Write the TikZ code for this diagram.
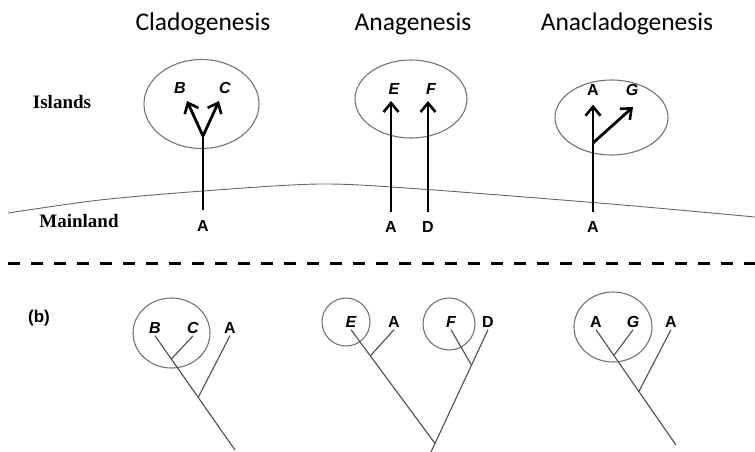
\documentclass[tikz,border=0pt]{standalone}
\usepackage{fontspec}
\setmainfont{Liberation Serif}
\setsansfont{Liberation Sans}
\newfontfamily\headfont{Carlito}
\usetikzlibrary{arrows.meta,shapes.geometric,calc}

\tikzset{
	evo/.style={line width=2.8pt, black},
	evoarrow/.style={evo, -{Straight Barb[length=9pt, width=15pt, line width=2.6pt]}},
	island/.style={ellipse, draw=black!55, line width=1.1pt, inner sep=0pt},
	taxon/.style={font=\fontsize{16}{16}\selectfont\sffamily\bfseries, inner sep=2pt},
	newtaxon/.style={taxon, font=\fontsize{16}{16}\selectfont\sffamily\bfseries\itshape},
	branch/.style={black!70, line width=1.1pt},
	heading/.style={font=\fontsize{25.5}{25.5}\selectfont\headfont},
	region/.style={font=\fontsize{19}{19}\selectfont\rmfamily\bfseries}
}

\begin{document}
\begin{tikzpicture}[x=1pt, y=-1pt]
	\useasboundingbox (0,0) rectangle (755,452);

	% headings and region names
	\node[heading] (hclado) at (203,24) {Cladogenesis};
	\node[heading] (hana) at (413,24) {Anagenesis};
	\node[heading] (hanaclado) at (627,24) {Anacladogenesis};
	\node[region] (islands) at (62,102) {Islands};
	\node[region] (mainland) at (79,221) {Mainland};

	% coast line between mainland and islands
	\draw[black!60, line width=0.9pt] plot[smooth] coordinates {(8,213) (100,200) (203,191) (320,184) (420,189) (611,204) (755,217)};

	% islands
	\node[island, minimum width=115pt, minimum height=89pt] (isl1) at (201.5,104) {};
	\node[island, minimum width=112pt, minimum height=78pt] (isl2) at (411,99) {};
	\node[island, minimum width=113pt, minimum height=75pt] (isl3) at (611.5,117.5) {};

	% cladogenesis
	\node[taxon] (a1) at (203,226) {A};
	\node[newtaxon] (b1) at (180,88) {B};
	\node[newtaxon] (c1) at (225,88) {C};
	\coordinate (fork1) at (203,136);
	\coordinate (tipb1) at (187,101);
	\coordinate (tipc1) at (219,101);
	\draw[evo, shorten <=8pt] (a1) -- (fork1);
	\draw[evoarrow] (fork1) -- (tipb1);
	\draw[evoarrow] (fork1) -- (tipc1);

	% anagenesis
	\node[taxon] (a2) at (391,227) {A};
	\node[taxon] (d2) at (428,227) {D};
	\node[newtaxon] (e2) at (394,89) {E};
	\node[newtaxon] (f2) at (431,89) {F};
	\draw[evoarrow, shorten <=7pt, shorten >=12pt] (a2) -- (a2 |- e2);
	\draw[evoarrow, shorten <=7pt, shorten >=12pt] (d2) -- (d2 |- f2);

	% anacladogenesis
	\node[taxon] (a3) at (593,227) {A};
	\node[taxon] (a3top) at (593,90) {A};
	\node[newtaxon] (g3) at (632,90) {G};
	\coordinate (fork3) at (593,143);
	\coordinate (tipg3) at (633,107);
	\draw[evoarrow, shorten <=7pt, shorten >=7pt] (a3) -- (a3top);
	\draw[evoarrow] (fork3) -- (tipg3);

	% separator
	\draw[line width=3pt, dash pattern=on 12pt off 11pt] (8,263) -- (755,263);
	\node[taxon, font=\fontsize{17}{17}\selectfont\sffamily\bfseries] (labb) at (39,318) {(b)};

	% tree for cladogenesis
	\node[island, minimum width=77pt, minimum height=70pt] (circ1) at (171.5,333) {};
	\node[newtaxon] (b4) at (155,328) {B};
	\node[newtaxon] (c4) at (193,328) {C};
	\node[taxon] (a4) at (230,328) {A};
	\coordinate (root4) at (235,450);
	\draw[branch] (b4.south) -- (root4);
	\draw[branch] (c4.south) -- ($(b4.south)!0.204!(root4)$);
	\draw[branch] (a4.south) -- ($(b4.south)!0.54!(root4)$);

	% tree for anagenesis
	\node[island, minimum size=48pt, ellipse] (circ2) at (346,322) {};
	\node[island, minimum size=52pt, ellipse] (circ3) at (449,324) {};
	\node[newtaxon] (e5) at (351,322) {E};
	\node[taxon] (a5) at (394,322) {A};
	\node[newtaxon] (f5) at (451,322) {F};
	\node[taxon] (d5) at (488,322) {D};
	\coordinate (root5) at (431,452);
	\coordinate (join5) at ($(d5.south)!0.93!(root5)$);
	\draw[branch] (d5.south) -- (root5);
	\draw[branch] (e5.south) -- (join5);
	\draw[branch] (a5.south) -- ($(e5.south)!0.23!(join5)$);
	\draw[branch] (f5.south) -- ($(d5.south)!0.29!(root5)$);

	% tree for anacladogenesis
	\node[island, minimum width=78pt, minimum height=70pt] (circ4) at (613,327) {};
	\node[taxon] (a6) at (596,322) {A};
	\node[newtaxon] (g6) at (633,322) {G};
	\node[taxon] (a7) at (671,322) {A};
	\coordinate (root6) at (676,445);
	\draw[branch] (a6.south) -- (root6);
	\draw[branch] (g6.south) -- ($(a6.south)!0.223!(root6)$);
	\draw[branch] (a7.south) -- ($(a6.south)!0.536!(root6)$);
\end{tikzpicture}
\end{document}
